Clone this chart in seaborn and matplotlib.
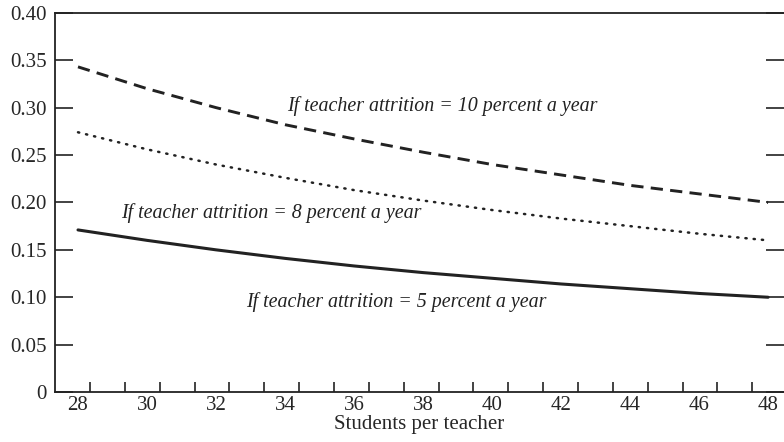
import seaborn as sns
import matplotlib.pyplot as plt
import pandas as pd
from matplotlib.ticker import FixedLocator

sns.set_style("ticks")
plt.rcParams['font.family'] = ['Liberation Serif', 'DejaVu Serif']

students = [28, 30, 32, 34, 36, 38, 40, 42, 44, 46, 48]
attr_5 = [0.171, 0.160, 0.150, 0.141, 0.133, 0.126, 0.120, 0.114, 0.109, 0.104, 0.100]
attr_8 = [0.274, 0.256, 0.240, 0.226, 0.213, 0.202, 0.192, 0.183, 0.175, 0.167, 0.160]
attr_10 = [0.343, 0.320, 0.300, 0.282, 0.267, 0.253, 0.240, 0.229, 0.218, 0.209, 0.200]

df = pd.DataFrame({"x": students, "a5": attr_5, "a8": attr_8, "a10": attr_10})

fig = plt.figure(figsize=(7.84, 4.42), dpi=100)
ax = fig.add_axes([0.070, 0.113, 0.930, 0.858])

# the three attrition curves
sns.lineplot(data=df, x="x", y="a10", ax=ax, color="#222222", lw=2.1, linestyle=(0, (4.2, 2.5)))
sns.lineplot(data=df, x="x", y="a8", ax=ax, color="#222222", lw=1.8, linestyle=(0, (0.5, 2.8)),
             dash_capstyle="round")
sns.lineplot(data=df, x="x", y="a5", ax=ax, color="#222222", lw=2.2)

ax.set_xlim(27.33, 48.46)
ax.set_ylim(0, 0.40)

ax.set_xticks(students)
ax.set_xticklabels([str(s) for s in students], fontsize=15)
ax.xaxis.set_minor_locator(FixedLocator([28.35 + k * 1.01 for k in range(20)]))
ax.tick_params(axis="x", which="major", length=0, pad=3)
ax.tick_params(axis="x", which="minor", direction="in", length=7, width=1.2, color="#222222")

yt = [0, 0.05, 0.10, 0.15, 0.20, 0.25, 0.30, 0.35, 0.40]
ax.set_yticks(yt)
ax.set_yticklabels(["0"] + [f"{v:.2f}" for v in yt[1:]], fontsize=15)
ax.tick_params(axis="y", which="major", direction="in", length=13, width=1.2, color="#222222",
               left=True, right=True, pad=6)

for s in ["left", "top", "bottom"]:
    ax.spines[s].set_color("#222222")
    ax.spines[s].set_linewidth(1.3)
ax.spines["right"].set_visible(False)

ax.set_xlabel("Students per teacher", fontsize=15, labelpad=0)
ax.set_ylabel("")

lab = dict(fontsize=14.4, style="italic", color="#222222", va="center")
ax.text(34.07, 0.302, "If teacher attrition = 10 percent a year", **lab)
ax.text(29.25, 0.189, "If teacher attrition = 8 percent a year", **lab)
ax.text(32.88, 0.095, "If teacher attrition = 5 percent a year", **lab)

fig.savefig("out.png", dpi=100)
